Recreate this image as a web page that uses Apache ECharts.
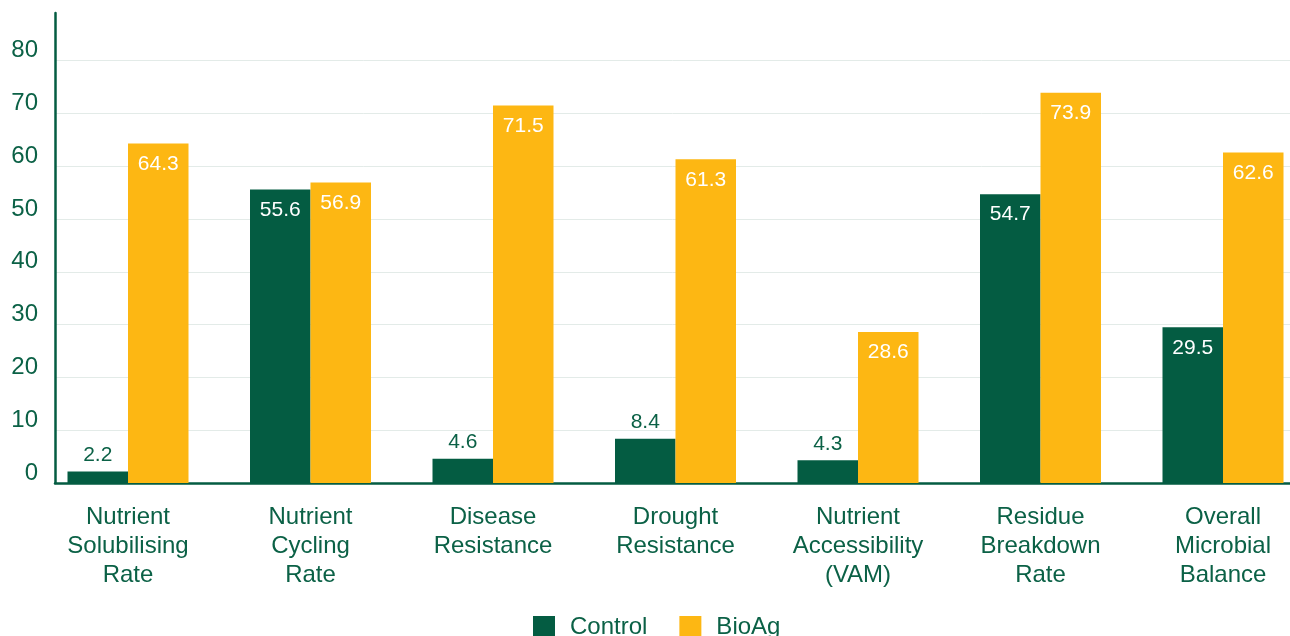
<!DOCTYPE html>
<html>
<head>
<meta charset="utf-8">
<script src="https://cdn.jsdelivr.net/npm/echarts@6/dist/echarts.min.js"></script>
<style>
  html, body { margin: 0; padding: 0; background: #fff; }
  #chart { width: 1290px; height: 636px; }
</style>
</head>
<body>
<div id="chart"></div>
<script>
var categories = [
  "Nutrient\nSolubilising\nRate",
  "Nutrient\nCycling\nRate",
  "Disease\nResistance",
  "Drought\nResistance",
  "Nutrient\nAccessibility\n(VAM)",
  "Residue\nBreakdown\nRate",
  "Overall\nMicrobial\nBalance"
];
var controlValues = [2.2, 55.6, 4.6, 8.4, 4.3, 54.7, 29.5];
var bioagValues = [64.3, 56.9, 71.5, 61.3, 28.6, 73.9, 62.6];
var seriesNames = ["Control", "BioAg"];

var green = "#045c42";
var textGreen = "#0b6146";
var yellow = "#fdb713";
var font = "Liberation Sans";

// short bars get their label above the bar, tall ones inside the top
function withLabels(values) {
  return values.map(function (v) {
    if (v < 15) {
      return { value: v, label: { position: "top", distance: 6, color: textGreen } };
    }
    return { value: v, label: { position: "insideTop", distance: 10, color: "#fff" } };
  });
}

var chart = echarts.init(document.getElementById("chart"));
var option = {
  backgroundColor: "#fff",
  animation: false,
  textStyle: { fontFamily: font },
  legend: {
    data: seriesNames,
    left: 533,
    top: 615,
    padding: 0,
    itemWidth: 22,
    itemHeight: 22,
    itemGap: 32,
    icon: "rect",
    textStyle: { fontSize: 24, color: textGreen, fontFamily: font, padding: [0, 0, 0, 10] }
  },
  grid: [
    { left: 55, right: 0, top: 13, bottom: 153, outerBoundsMode: "none" },
    // bars sit on their own grid, shifted left of the axis line as in the original
    { left: 36.75, width: 1277.5, top: 13, bottom: 153, outerBoundsMode: "none" }
  ],
  xAxis: [
    {
      gridIndex: 0,
      type: "category",
      data: categories,
      axisLine: { lineStyle: { color: green, width: 2.5 } },
      axisTick: { show: false },
      axisLabel: { show: false }
    },
    {
      gridIndex: 1,
      type: "category",
      data: categories,
      axisLine: { show: false },
      axisTick: { show: false },
      axisLabel: {
        margin: 20,
        fontSize: 24,
        lineHeight: 29,
        color: textGreen,
        fontFamily: font,
        interval: 0
      }
    }
  ],
  yAxis: [
    {
      gridIndex: 0,
      type: "value",
      min: 0,
      max: 89,
      interval: 10,
      axisLine: { show: true, lineStyle: { color: green, width: 2.5 } },
      axisTick: { show: false },
      axisLabel: {
        margin: 17,
        fontSize: 24,
        color: textGreen,
        fontFamily: font,
        verticalAlign: "bottom",
        lineHeight: 20,
        showMaxLabel: false
      },
      splitLine: {
        showMaxLine: false,
        lineStyle: { color: "#e3ebe8", width: 1 }
      }
    },
    {
      gridIndex: 1,
      type: "value",
      min: 0,
      max: 89,
      show: false,
      splitLine: { show: false }
    }
  ],
  series: [
    {
      name: seriesNames[0],
      type: "bar",
      xAxisIndex: 1,
      yAxisIndex: 1,
      barWidth: 60.5,
      barGap: "0%",
      itemStyle: { color: green },
      label: { show: true, fontSize: 21, fontFamily: font },
      data: withLabels(controlValues)
    },
    {
      name: seriesNames[1],
      type: "bar",
      xAxisIndex: 1,
      yAxisIndex: 1,
      barWidth: 60.5,
      barGap: "0%",
      itemStyle: { color: yellow },
      label: { show: true, fontSize: 21, fontFamily: font },
      data: withLabels(bioagValues)
    }
  ]
};
chart.setOption(option);
window.addEventListener("resize", function () { chart.resize(); });
</script>
</body>
</html>
